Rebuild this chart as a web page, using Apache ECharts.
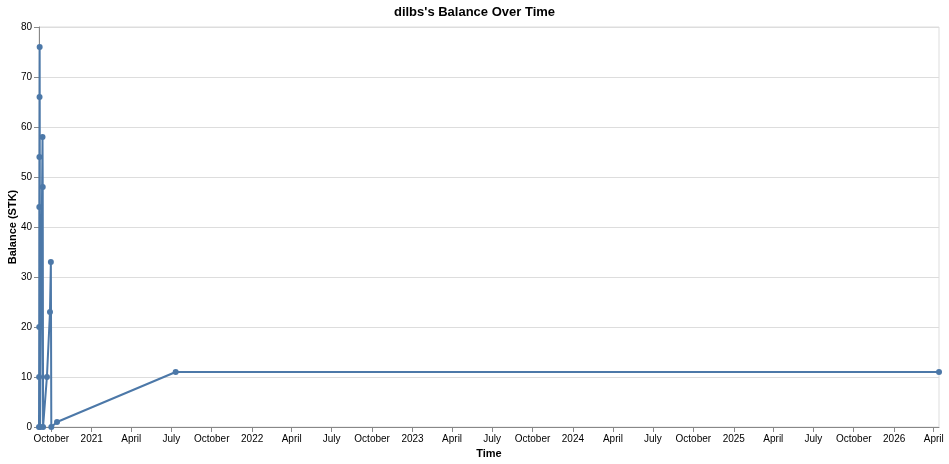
<!DOCTYPE html>
<html>
<head>
<meta charset="utf-8">
<title>dilbs's Balance Over Time</title>
<script src="https://cdn.jsdelivr.net/npm/echarts@6/dist/echarts.min.js"></script>
<style>
  html, body { margin: 0; padding: 0; background: #fff; }
  #chart { width: 949px; height: 464px; }
</style>
</head>
<body>
<div id="chart"></div>
<script>
// balance history
var times = [
  '2020-09-03T00:00', '2020-09-03T06:00', '2020-09-03T12:00', '2020-09-03T18:00',
  '2020-09-04T00:00', '2020-09-04T06:00', '2020-09-04T12:00', '2020-09-05T12:00',
  '2020-09-11T00:00', '2020-09-11T12:00', '2020-09-12T06:00', '2020-09-21T00:00',
  '2020-09-28T00:00', '2020-09-30T00:00', '2020-10-01T00:00', '2020-10-14T00:00',
  '2021-07-11T00:00', '2026-04-13T00:00'
];
var balances = [0, 10, 20, 44, 54, 66, 76, 0, 58, 48, 0, 10, 23, 33, 0, 1, 11, 11];

var yTicks = [0, 10, 20, 30, 40, 50, 60, 70, 80];

var DAY = 86400000;
var font = 'Liberation Sans, Arial, Helvetica, sans-serif';

var seriesData = times.map(function (t, i) {
  return [new Date(t).getTime(), balances[i]];
});

var myChart = echarts.init(document.getElementById('chart'), null, { renderer: 'canvas' });

var option = {
  animation: false,
  backgroundColor: '#fff',
  title: {
    text: "dilbs's Balance Over Time",
    left: 'center',
    top: 1,
    textStyle: { fontFamily: font, fontSize: 13, fontWeight: 'bold', color: '#000' }
  },
  grid: {
    left: 39,
    right: 10,
    top: 27,
    bottom: 37,
    containLabel: false,
    outerBoundsMode: 'none',
    show: true,
    borderColor: '#ddd',
    borderWidth: 1
  },
  xAxis: {
    type: 'time',
    min: seriesData[0][0],
    max: seriesData[seriesData.length - 1][0],
    minInterval: 80 * DAY,
    maxInterval: 100 * DAY,
    name: 'Time',
    nameLocation: 'middle',
    nameGap: 21,
    nameMoveOverlap: false,
    nameTextStyle: { fontFamily: font, fontSize: 11, fontWeight: 'bold', color: '#000' },
    axisLine: { show: true, lineStyle: { color: '#888', width: 1 } },
    axisTick: { show: true, length: 5, lineStyle: { color: '#888' } },
    minorTick: { show: false },
    splitLine: { show: false },
    axisLabel: {
      fontFamily: font,
      fontSize: 10,
      color: '#000',
      margin: 7,
      hideOverlap: false,
      formatter: { year: '{yyyy}', month: '{MMMM}', day: '{MMMM}' }
    }
  },
  yAxis: {
    type: 'value',
    min: yTicks[0],
    max: yTicks[yTicks.length - 1],
    interval: 10,
    name: 'Balance (STK)',
    nameLocation: 'middle',
    nameGap: 21,
    nameMoveOverlap: false,
    nameTextStyle: { fontFamily: font, fontSize: 11, fontWeight: 'bold', color: '#000' },
    axisLine: { show: true, lineStyle: { color: '#888', width: 1 } },
    axisTick: { show: true, length: 5, lineStyle: { color: '#888' } },
    splitLine: { show: true, lineStyle: { color: '#ddd', width: 1 } },
    axisLabel: { fontFamily: font, fontSize: 10, color: '#000', margin: 7 }
  },
  series: [{
    type: 'line',
    data: seriesData,
    color: '#4c78a8',
    lineStyle: { color: '#4c78a8', width: 2 },
    symbol: 'circle',
    symbolSize: 6,
    showAllSymbol: true,
    itemStyle: { color: '#4c78a8' },
    clip: false
  }]
};

myChart.setOption(option);
</script>
</body>
</html>
